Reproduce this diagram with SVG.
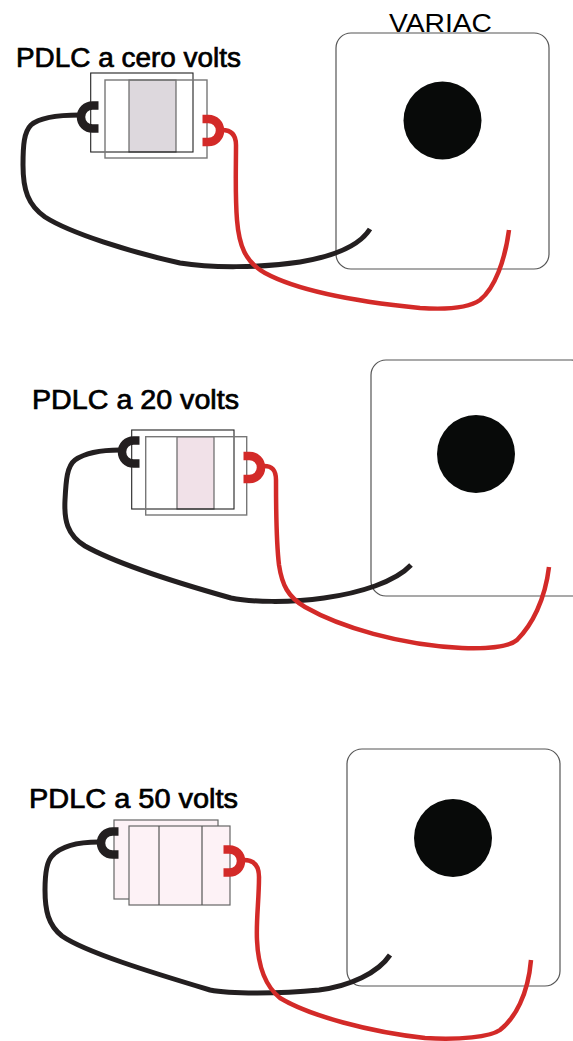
<svg xmlns="http://www.w3.org/2000/svg" xmlns:xlink="http://www.w3.org/1999/xlink" width="573" height="1041" viewBox="0 0 573 1041">
  <style>
    .title { font-family: "Liberation Sans", Arial, sans-serif; font-size: 27px; fill: #000; stroke: #000; stroke-width: 0.7px; }
    .label { font-family: "Liberation Sans", Arial, sans-serif; font-size: 26.5px; fill: #000; }
    .box { fill: #fff; stroke: #555; stroke-width: 1.2; }
    .knob { fill: #080a09; }
    .film-a { fill: none; stroke: #222; stroke-width: 1.1; }
    .film-b { fill: none; stroke: #777; stroke-width: 1.4; }
    .cell { stroke: #666; stroke-width: 1.2; }
    .wire { fill: none; stroke-linecap: butt; }
    .neg { stroke: #231f20; stroke-width: 5; }
    .pos { stroke: #d32a28; stroke-width: 4.5; }
    .plug-neg { stroke: #231f20; }
    .plug-pos { stroke: #d32a28; }
  </style>
  <defs>
    <!-- terminal clip: a thick C opening to the right, centred on (0,0) -->
    <path id="clip" d="M 6 -11.5 H 0 A 11.5 11.5 0 0 0 0 11.5 H 6" fill="none" stroke-width="8.5"/>
  </defs>

  <!-- ===== Set 1: 0 V ===== -->
  <g id="title-1"><text class="title" x="16" y="67" textLength="225" lengthAdjust="spacingAndGlyphs">PDLC a cero volts</text></g>
  <g id="variac-1">
    <rect class="box" x="336" y="33" width="213" height="236" rx="15"/>
    <circle class="knob" cx="442.5" cy="120.5" r="39"/>
    <text class="label" x="389" y="32" textLength="103" lengthAdjust="spacingAndGlyphs">VARIAC</text>
  </g>
  <g id="pdlc-1">
    <rect x="129" y="80" width="47" height="72" fill="#ddd8dd" class="cell"/>
    <rect class="film-a" x="90.7" y="73" width="102.3" height="79"/>
    <rect class="film-b" x="105" y="80" width="102" height="78"/>
  </g>

  <!-- ===== Set 2: 20 V ===== -->
  <g id="title-2"><text class="title" x="32" y="409" textLength="207" lengthAdjust="spacingAndGlyphs">PDLC a 20 volts</text></g>
  <g id="variac-2">
    <rect class="box" x="371" y="360" width="215" height="236" rx="15"/>
    <circle class="knob" cx="476" cy="454" r="39"/>
  </g>
  <g id="pdlc-2">
    <rect x="177" y="436.7" width="37" height="72.3" fill="#f1e1e8" class="cell"/>
    <rect class="film-a" x="131.7" y="430" width="102.3" height="79"/>
    <rect class="film-b" x="145.7" y="436.7" width="101" height="78.3"/>
  </g>

  <!-- ===== Set 3: 50 V ===== -->
  <g id="title-3"><text class="title" x="29" y="808" textLength="209" lengthAdjust="spacingAndGlyphs">PDLC a 50 volts</text></g>
  <g id="variac-3">
    <rect class="box" x="347" y="749" width="213" height="237" rx="15"/>
    <circle class="knob" cx="453" cy="838" r="39"/>
  </g>
  <g id="pdlc-3">
    <rect x="114" y="820" width="104" height="79" fill="#fdf2f6" stroke="#666" stroke-width="1.2"/>
    <rect x="129" y="826" width="101" height="79" fill="#fdf2f6" stroke="#666" stroke-width="1.2"/>
    <line x1="159" y1="826" x2="159" y2="905" stroke="#555" stroke-width="1.2"/>
    <line x1="202" y1="826" x2="202" y2="905" stroke="#555" stroke-width="1.2"/>
  </g>

  <!-- ===== leads ===== -->
  <g id="connectors">
    <path class="wire neg" d="M 80 115 C 60 115, 40 117, 31 125 C 24 132, 23 145, 23 165 C 23 190, 28 205, 45 217 C 70 233, 130 252, 180 263 C 210 268, 260 268, 300 262 C 335 256, 360 245, 370 229"/>
    <path class="wire pos" d="M 222 130 C 230 130, 236 134, 236 145 C 236 170, 235 195, 237 220 C 239 245, 245 262, 265 273 C 300 292, 360 302, 420 308 C 450 310, 470 307, 480 300 C 495 288, 505 260, 509 230"/>

    <path class="wire neg" d="M 120 450 C 100 450, 85 453, 75 460 C 67 466, 66 480, 65 500 C 64 520, 67 535, 85 546 C 110 560, 160 578, 231 598 C 250 602, 290 603, 324 598 C 360 593, 395 582, 411 565"/>
    <path class="wire pos" d="M 264 466 C 272 466, 276 470, 276 480 C 276 510, 276 540, 279 565 C 282 585, 288 597, 305 607 C 340 627, 400 645, 462 648 C 490 649, 510 646, 517 640 C 532 625, 545 600, 549 567"/>

    <path class="wire neg" d="M 99 842 C 80 842, 62 845, 52 856 C 46 862, 45 875, 45 890 C 45 910, 48 925, 62 936 C 85 952, 150 972, 210 990 C 230 994, 280 994, 319 990 C 350 986, 378 973, 390 955"/>
    <path class="wire pos" d="M 244 860 C 254 860, 259 866, 259 877 C 259 900, 256 920, 257 940 C 258 965, 264 985, 280 998 C 310 1016, 370 1032, 425 1038 C 460 1040, 490 1037, 500 1030 C 515 1018, 528 995, 531 960"/>
  </g>

  <!-- ===== terminal clips ===== -->
  <g id="clips">
    <use xlink:href="#clip" class="plug-neg" transform="translate(92.5 117)"/>
    <use xlink:href="#clip" class="plug-pos" transform="translate(208.5 130.5) scale(-1 1)"/>
    <use xlink:href="#clip" class="plug-neg" transform="translate(133.5 452)"/>
    <use xlink:href="#clip" class="plug-pos" transform="translate(249.5 467.5) scale(-1 1)"/>
    <use xlink:href="#clip" class="plug-neg" transform="translate(112.5 843)"/>
    <use xlink:href="#clip" class="plug-pos" transform="translate(229.5 861) scale(-1 1)"/>
  </g>
</svg>
